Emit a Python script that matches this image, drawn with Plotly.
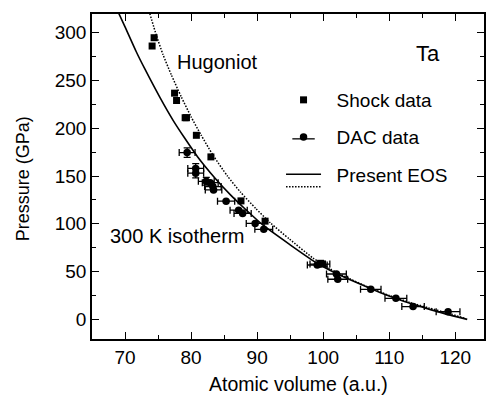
import plotly.graph_objects as go

# Tantalum: pressure (GPa) versus atomic volume (a.u.)

# Shock-wave (Hugoniot) measurements
shock_v = [74.1, 74.4, 77.5, 77.8, 79.1, 79.3, 80.8, 83.0, 87.55, 91.2, 99.6, 99.9]
shock_p = [286.0, 294.7, 236.7, 229.0, 211.0, 211.0, 192.6, 170.0, 124.0, 102.8, 58.7, 58.0]

# Diamond-anvil-cell measurements with uncertainties
dac_v = [79.4, 80.7, 80.7, 82.3, 82.9, 83.3, 83.4, 85.3, 87.2, 87.8,
         89.7, 91.0, 99.1, 99.5, 102.0, 102.2, 107.2, 111.0, 113.6, 118.9]
dac_p = [174.5, 158.0, 153.0, 144.5, 143.0, 139.0, 135.5, 123.7, 114.3, 110.9,
         100.4, 94.2, 56.9, 57.9, 47.5, 42.0, 31.5, 22.1, 13.4, 8.1]
dac_dv = [1.2, 1.2, 1.2, 1.2, 1.2, 1.25, 1.25, 1.3, 1.3, 1.3,
          1.35, 1.35, 1.5, 1.5, 1.5, 1.5, 1.55, 1.65, 1.7, 1.8]
dac_dp = [5.0, 5.0, 5.0, 4.0, 0, 0, 0, 0, 0, 0,
          0, 0, 0, 0, 0, 0, 0, 0, 0, 0]

# Present EOS: 300 K isotherm
iso_v = [69.0, 70.0, 71.7, 73.0, 75.3, 77.3, 79.0, 81.0, 83.6, 86.0, 88.1,
         91.0, 94.9, 98.9, 102.0, 105.4, 108.5, 111.0, 113.6, 115.5, 118.5, 121.8]
iso_p = [321.0, 306.0, 280.0, 262.0, 232.0, 208.0, 190.0, 170.0, 148.0, 130.0, 116.0,
         98.0, 78.5, 59.5, 48.0, 37.5, 28.5, 22.0, 15.8, 11.8, 5.8, 0.0]

# Present EOS: Hugoniot
hug_v = [73.75, 74.75, 75.75, 77.0, 78.5, 80.0, 81.5, 83.3, 85.5, 87.5, 89.8,
         92.0, 94.9, 98.4, 101.0, 104.0, 107.0, 110.0, 113.0, 116.0, 119.0, 121.5]
hug_p = [320.0, 297.0, 277.0, 256.0, 233.0, 212.0, 193.0, 172.0, 150.0, 133.0, 116.0,
         101.0, 84.0, 64.5, 53.0, 42.5, 33.2, 25.0, 18.0, 12.0, 6.3, 1.0]

x_ticks = [70, 80, 90, 100, 110, 120]
y_ticks = [0, 50, 100, 150, 200, 250, 300]

FONT = "Liberation Sans, Arial, Helvetica, sans-serif"
NB = "\u00a0\u00a0"

fig = go.Figure()

fig.add_trace(go.Scatter(
    x=iso_v, y=iso_p, mode="lines", name=NB + "Present EOS",
    line=dict(color="black", width=1.6, shape="spline", smoothing=0.6),
    legend="legend", legendrank=3, legendgroup="eos",
))
fig.add_trace(go.Scatter(
    x=hug_v, y=hug_p, mode="lines", name=" ",
    line=dict(color="black", width=1.5, dash="1.5px,1.5px", shape="spline", smoothing=0.6),
    legend="legend2",
))
fig.add_trace(go.Scatter(
    x=shock_v, y=shock_p, mode="markers", name=NB + "Shock data",
    marker=dict(symbol="square", size=7, color="black"),
    legendrank=1, legendgroup="shock",
))
fig.add_trace(go.Scatter(
    x=dac_v, y=dac_p, mode="markers", name=NB + "DAC data",
    marker=dict(symbol="circle", size=7.5, color="black"),
    error_x=dict(type="data", array=dac_dv, color="black", thickness=1.3, width=3.5),
    error_y=dict(type="data", array=dac_dp, color="black", thickness=1.3, width=3.5),
    legendrank=2, legendgroup="dac",
))
# whisker glyph laid over the DAC legend key
fig.add_trace(go.Scatter(
    x=[None], y=[None], mode="markers", name=" ",
    marker=dict(symbol="line-ew", size=18, color="black", line=dict(color="black", width=1.3)),
    legend="legend3", hoverinfo="skip",
))

PX_L, PX_R, PX_T, PX_B = 92, 486, 14, 339


def px_x(p):
    return (p - PX_L) / (PX_R - PX_L)


def px_y(p):
    return (PX_B - p) / (PX_B - PX_T)


def label(text, cx, cy, size, **kw):
    return dict(text=text, x=px_x(cx), y=px_y(cy), xref="paper", yref="paper",
                xanchor="center", yanchor="middle", showarrow=False,
                font=dict(family=FONT, size=size, color="black"), **kw)


axis_common = dict(
    showline=True, linewidth=1.5, linecolor="black", mirror="allticks",
    ticks="inside", ticklen=7, tickwidth=1.3, tickcolor="black",
    showgrid=False, zeroline=False,
    tickfont=dict(family=FONT, size=19, color="black"),
)

legend_common = dict(xanchor="left", yanchor="top", bgcolor="rgba(0,0,0,0)",
                     borderwidth=0, itemwidth=35,
                     font=dict(family=FONT, size=19, color="black"))

fig.update_layout(
    width=487, height=396,
    margin=dict(l=PX_L, r=487 - PX_R, t=PX_T, b=396 - PX_B),
    paper_bgcolor="white", plot_bgcolor="white",
    font=dict(family=FONT, size=19, color="black"),
    xaxis=dict(range=[65, 124.34], tickvals=x_ticks,
               minor=dict(dtick=5, tick0=0, ticks="inside", ticklen=4, tickwidth=1.2, tickcolor="black"),
               **axis_common),
    yaxis=dict(range=[-20.5, 319.5], tickvals=y_ticks,
               minor=dict(dtick=25, tick0=0, ticks="inside", ticklen=4, tickwidth=1.2, tickcolor="black"),
               **axis_common),
    legend=dict(x=px_x(282), y=px_y(81), tracegroupgap=9.5, traceorder="grouped", **legend_common),
    legend2=dict(x=px_x(282), y=px_y(168), **legend_common),
    legend3=dict(x=px_x(282), y=px_y(120), **legend_common),
    annotations=[
        dict(text="Atomic volume (a.u.)", x=px_x(300), y=px_y(396), xref="paper", yref="paper",
             xanchor="center", yanchor="bottom", showarrow=False, borderpad=0,
             font=dict(family=FONT, size=19.5, color="black")),
        label("Pressure (GPa)", 23, 179, 18, textangle=-90),
        label("Hugoniot", 218, 62, 20),
        label("300 K isotherm", 178, 236, 20),
        label("Ta", 430, 53, 22),
    ],
)

fig.write_html("out.html")
